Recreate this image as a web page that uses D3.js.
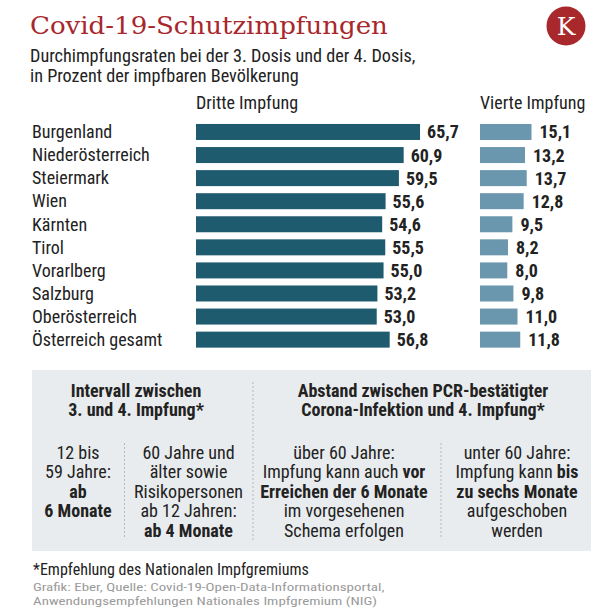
<!DOCTYPE html>
<html>
<head>
<meta charset="utf-8">
<script src="https://cdn.jsdelivr.net/npm/d3@7"></script>
<style>
  html, body { margin: 0; padding: 0; background: #ffffff; }
  svg { display: block; }
</style>
</head>
<body>
<div id="chart"></div>
<script>
// ---------- DATA ----------
const regions = ["Burgenland", "Niederösterreich", "Steiermark", "Wien", "Kärnten", "Tirol", "Vorarlberg", "Salzburg", "Oberösterreich", "Österreich gesamt"];
const dritteImpfung = [65.7, 60.9, 59.5, 55.6, 54.6, 55.5, 55.0, 53.2, 53.0, 56.8];
const vierteImpfung = [15.1, 13.2, 13.7, 12.8, 9.5, 8.2, 8.0, 9.8, 11.0, 11.8];
const seriesNames = ["Dritte Impfung", "Vierte Impfung"];

const titleText = "Covid-19-Schutzimpfungen";
const subtitleLines = ["Durchimpfungsraten bei der 3. Dosis und der 4. Dosis,", "in Prozent der impfbaren Bevölkerung"];

const boxHeaderLeft = ["Intervall zwischen", "3. und 4. Impfung*"];
const boxHeaderRight = ["Abstand zwischen PCR-bestätigter", "Corona-Infektion und 4. Impfung*"];
// each column: lines, each line: segments [text, bold]
const boxColumns = [
  [[["12 bis", 0]], [["59 Jahre:", 0]], [["ab", 1]], [["6 Monate", 1]]],
  [[["60 Jahre und", 0]], [["älter sowie", 0]], [["Risikopersonen", 0]], [["ab 12 Jahren:", 0]], [["ab 4 Monate", 1]]],
  [[["über 60 Jahre:", 0]], [["Impfung kann auch ", 0], ["vor", 1]], [["Erreichen der 6 Monate", 1]], [["im vorgesehenen", 0]], [["Schema erfolgen", 0]]],
  [[["unter 60 Jahre:", 0]], [["Impfung kann ", 0], ["bis", 1]], [["zu sechs Monate", 1]], [["aufgeschoben", 0]], [["werden", 0]]]
];
const footnote = "*Empfehlung des Nationalen Impfgremiums";
const sourceLines = ["Grafik: Eber, Quelle: Covid-19-Open-Data-Informationsportal,", "Anwendungsempfehlungen Nationales Impfgremium (NIG)"];

// ---------- FONT DETECTION ----------
function fontExists(name) {
  const c = document.createElement("canvas").getContext("2d");
  const s = "abcdefghijklmnopqrstuvwxyz ÄÖÜ 0123456789";
  let differs = true;
  for (const fb of ["monospace", "serif", "sans-serif"]) {
    c.font = `40px ${fb}`;
    const w0 = c.measureText(s).width;
    c.font = `40px "${name}", ${fb}`;
    const w1 = c.measureText(s).width;
    if (Math.abs(w0 - w1) < 0.5) differs = false;
  }
  return differs;
}
const hasCond = fontExists("Roboto Condensed");
const SANS = hasCond ? "'Roboto Condensed', Roboto, sans-serif" : "Roboto, 'Liberation Sans', sans-serif";
const K = hasCond ? 1 : 0.88;   // horizontal condensing when no condensed face

// ---------- SETUP ----------
const W = 616, H = 615;
const svg = d3.select("#chart").append("svg").attr("width", W).attr("height", H);

function txt(parent, x, y, segs, o = {}) {
  const size = o.size || 18, anchor = o.anchor || "start", fill = o.fill || "#222";
  const k = o.k != null ? o.k : K;
  const t = parent.append("text")
    .attr("transform", `translate(${x},${y}) scale(${k},1)`)
    .attr("text-anchor", anchor)
    .attr("font-family", o.family || SANS)
    .attr("font-size", size)
    .attr("fill", fill);
  if (typeof segs === "string") segs = [[segs, o.bold ? 1 : 0]];
  segs.forEach(([s, b]) => {
    t.append("tspan").attr("font-weight", b ? 700 : 400).text(s);
  });
  return t;
}

// ---------- HEADER ----------
const title = svg.append("text")
  .attr("x", 30).attr("y", 34)
  .attr("font-family", "'DejaVu Serif', 'Liberation Serif', serif")
  .attr("font-size", 24)
  .attr("fill", "#a7272d")
  .text(titleText);
{
  const w = title.node().getComputedTextLength();
  const target = 358;
  title.attr("transform", `translate(30,34) scale(${target / w},1) translate(-30,-34)`);
}

// logo
const logo = svg.append("g").attr("transform", "translate(566,26)");
logo.append("circle").attr("r", 19.5).attr("fill", "#a8282b");
logo.append("text").attr("text-anchor", "middle").attr("y", 9)
  .attr("font-family", "'DejaVu Serif', 'Liberation Serif', serif")
  .attr("font-size", 25).attr("fill", "#fff").text("K");

subtitleLines.forEach((l, i) => txt(svg, 30, 61.5 + i * 20, l, { size: 18.2, fill: "#222" }));

// ---------- BARS ----------
const x = d3.scaleLinear().domain([0, 100]).range([0, 341]);
const y = d3.scaleBand().domain(regions).range([116.9, 354.7]).paddingInner(0.3065).paddingOuter(0.3065);
const x0 = 196, x1 = 480;
const fmt = v => d3.format(".1f")(v).replace(".", ",");

txt(svg, x0, 109, seriesNames[0], { size: 18, fill: "#222" });
txt(svg, x1, 109, seriesNames[1], { size: 18, fill: "#222" });

const rows = svg.append("g");
regions.forEach((r, i) => {
  const yc = y(r) + y.bandwidth() / 2;
  txt(rows, 32, yc + 6.3, r, { size: 18, fill: "#222" });
  rows.append("rect").attr("x", x0).attr("y", y(r)).attr("width", x(dritteImpfung[i])).attr("height", y.bandwidth()).attr("fill", "#1f5b6f");
  txt(rows, x0 + x(dritteImpfung[i]) + 7, yc + 6.5, fmt(dritteImpfung[i]), { size: 18, bold: 1, fill: "#222" });
  rows.append("rect").attr("x", x1).attr("y", y(r)).attr("width", x(vierteImpfung[i])).attr("height", y.bandwidth()).attr("fill", "#6a96ae");
  txt(rows, x1 + x(vierteImpfung[i]) + 8, yc + 6.5, fmt(vierteImpfung[i]), { size: 18, bold: 1, fill: "#222" });
});

// ---------- INFO BOX ----------
const box = svg.append("g");
box.append("rect").attr("x", 32).attr("y", 370).attr("width", 559).attr("height", 181).attr("fill", "#e9ecee");
const dash = (xx, ya, yb) => box.append("line").attr("x1", xx).attr("x2", xx).attr("y1", ya).attr("y2", yb)
  .attr("stroke", "#b4b8bc").attr("stroke-width", 1).attr("stroke-dasharray", "2,2");
dash(253, 382, 540);
dash(124.5, 443, 538);
dash(441, 443, 538);

boxHeaderLeft.forEach((l, i) => txt(box, 136, 397 + i * 19.3, l, { size: 18, bold: 1, anchor: "middle" }));
boxHeaderRight.forEach((l, i) => txt(box, 423, 397 + i * 19.3, l, { size: 18, bold: 1, anchor: "middle" }));

const colCenters = [78, 188.5, 344, 517];
boxColumns.forEach((lines, c) => {
  lines.forEach((segs, i) => txt(box, colCenters[c], 459 + i * 19.4, segs, { size: 18, anchor: "middle" }));
});

// ---------- FOOTER ----------
txt(svg, 33, 575, footnote, { size: 16, fill: "#222" });
sourceLines.forEach((l, i) => txt(svg, 33, 591 + i * 13.8, l, { size: 11.8, fill: "#9a9a9a", k: 1.27 }));
</script>
</body>
</html>
